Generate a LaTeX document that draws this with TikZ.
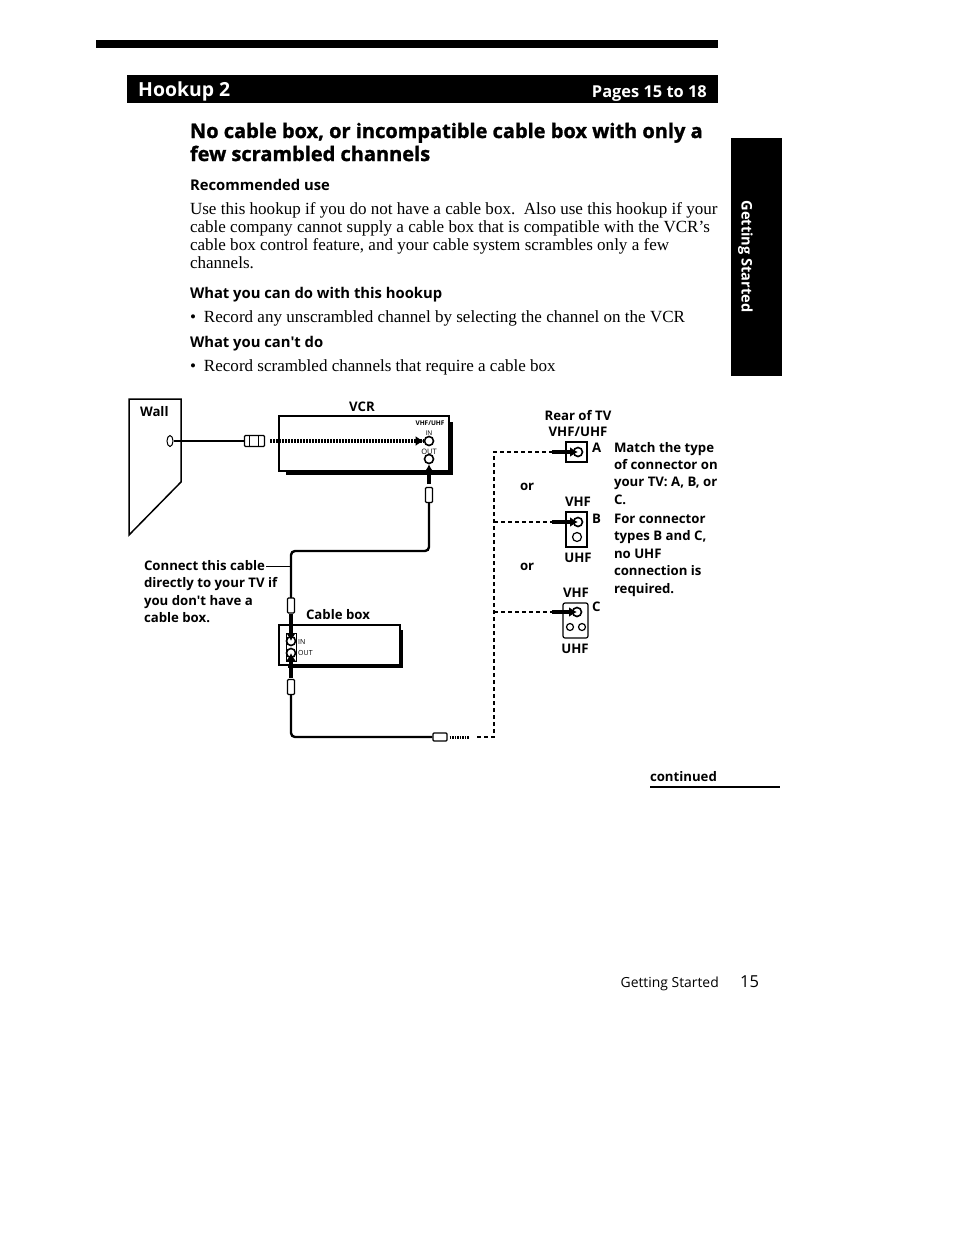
\documentclass[tikz,border=0pt]{standalone}
\usepackage{fontspec}
\setmainfont{Liberation Serif}
\newfontfamily\sansb{Open Sans}
\newfontfamily\sansh{Open Sans}[BoldFeatures={FakeBold=1.3}]
\newcommand{\fz}[1]{\fontsize{#1}{#1}\selectfont}
\usetikzlibrary{arrows.meta,shapes.geometric}
\tikzset{
  x=1pt,y=-1pt,
  lab/.style={anchor=base west,inner sep=0pt,outer sep=0pt,font=\sansb\bfseries\fz{13.2},text=black},
  labc/.style={lab,anchor=base},
  bodytxt/.style={anchor=base west,inner sep=0pt,outer sep=0pt,font=\fz{17.05},text=black},
  headtxt/.style={anchor=base west,inner sep=0pt,outer sep=0pt,font=\sansb\bfseries\fz{14.8},text=black},
  titletxt/.style={anchor=base west,inner sep=0pt,outer sep=0pt,font=\sansh\bfseries\fz{20},text=black},
  cable/.style={line width=2.4pt,black},
  thincable/.style={line width=1.8pt,black},
  boxed/.style={draw=black,line width=1.6pt,fill=white},
  dashln/.style={line width=1.3pt,dash pattern=on 4pt off 3pt,black},
  arrowline/.style={line width=3.2pt,black,-{Latex[length=8pt,width=10pt]}},
  jack/.style={circle,draw=black,line width=1.6pt,fill=white,minimum size=9pt,inner sep=0pt},
  jacks/.style={circle,draw=black,line width=1.2pt,fill=white,minimum size=7pt,inner sep=0pt},
  plugv/.style={draw=black,line width=1.2pt,fill=white,minimum width=7pt,minimum height=15pt,inner sep=0pt,rounded corners=1pt},
  plugh/.style={draw=black,line width=1.2pt,fill=white,minimum width=14pt,minimum height=8pt,inner sep=0pt,rounded corners=1pt},
}
\begin{document}
\begin{tikzpicture}
\useasboundingbox (0,0) rectangle (954,1235);
\fill[white] (0,0) rectangle (954,1235);
% top rules and banners
\fill[black] (96,40) rectangle (718,48);
\fill[black] (127,75) rectangle (718,103);
\node[anchor=base west,inner sep=0pt,font=\sansb\bfseries\fz{19.4},text=white] (hook) at (138,96) {Hookup 2};
\node[anchor=base east,inner sep=0pt,font=\sansb\bfseries\fz{16.4},text=white] (pages) at (707,97) {Pages 15 to 18};
\fill[black] (731,138) rectangle (782,376);
\node[rotate=-90,inner sep=0pt,font=\sansb\bfseries\fz{14.6},text=white] (gs) at (745.5,256.5) {Getting Started};
% text block
\node[titletxt] (t1) at (190,138) {No cable box, or incompatible cable box with only a};
\node[titletxt] (t2) at (190,161) {few scrambled channels};
\node[headtxt] (h1) at (190,190) {Recommended use};
\node[bodytxt] (b1) at (190,214) {Use this hookup if you do not have a cable box.\ \ Also use this hookup if your};
\node[bodytxt] (b2) at (190,232) {cable company cannot supply a cable box that is compatible with the VCR's};
\node[bodytxt] (b3) at (190,250) {cable box control feature, and your cable system scrambles only a few};
\node[bodytxt] (b4) at (190,268) {channels.};
\node[headtxt] (h2) at (190,298) {What you can do with this hookup};
\node[bodytxt] (b5) at (190,322) {\textbullet\hspace{8pt}Record any unscrambled channel by selecting the channel on the VCR};
\node[headtxt] (h3) at (190,347) {What you can't do};
\node[bodytxt] (b6) at (190,371) {\textbullet\hspace{8pt}Record scrambled channels that require a cable box};
% Wall
\draw[line width=1.5pt,fill=white] (129,399) -- (181,399) -- (181,482) -- (129,535) -- cycle;
\node[lab] (wall) at (140,416) {Wall};
\node[draw=black,line width=1pt,fill=white,ellipse,minimum width=6pt,minimum height=11pt,inner sep=0pt] (socket) at (170,441) {};
% VCR
\node[labc] (vcrl) at (362,411) {VCR};
\fill[black] (286,422) rectangle (453,475);
\node[boxed,anchor=north west,minimum width=170pt,minimum height=55pt,inner sep=0pt] (vcr) at (278,415) {};
\node[anchor=base,inner sep=0pt,font=\sansb\bfseries\fz{6.5}] (vhfu) at (430,425) {VHF/UHF};
\node[anchor=base,inner sep=0pt,font=\sansb\fz{6.5}] (inl) at (429,435) {IN};
\node[anchor=base,inner sep=0pt,font=\sansb\fz{7.5}] (outl) at (429,454) {OUT};
\node[jack] (vin) at (429,441) {};
\node[jack] (vout) at (429,459) {};
\node[plugh,minimum width=20pt,minimum height=11pt] (wplug) at (254.5,441) {};
\draw[line width=1pt] (249,436) -- (249,446) (258,436) -- (258,446);
\draw[thincable] (socket) -- (wplug);
\draw[line width=3.5pt,dash pattern=on 2pt off 1pt] (wplug.east)++(5,0) -- (vin.west);
\draw[arrowline] (416,441) -- (vin.west);
% VCR out cable to cable box
\coordinate (bend1) at (429,551);
\coordinate (bend2) at (291,551);
\node[plugv] (vplug) at (429,495) {};
\draw[arrowline] (429,484) -- (vout.south);
\draw[cable,rounded corners=4pt] (vplug.south) -- (bend1) -- (bend2) -- (291,598);
% cable box
\node[labc] (cbl) at (338,619) {Cable box};
\fill[black] (288,630) rectangle (403,668);
\node[boxed,anchor=north west,minimum width=121pt,minimum height=40pt,inner sep=0pt] (cbox) at (278,624) {};
\node[draw=black,line width=1pt,fill=white,minimum width=10pt,minimum height=28pt,inner sep=0pt,anchor=north] (cjb) at (291,633) {};
\node[jack] (cin) at (291,641) {};
\node[jack] (cout) at (291,653) {};
\node[anchor=base west,inner sep=0pt,font=\sansb\fz{7}] (cinl) at (298,644) {IN};
\node[anchor=base west,inner sep=0pt,font=\sansb\fz{7}] (coutl) at (298,655) {OUT};
\node[plugv] (cp1) at (291,605.5) {};
\draw[arrowline] (cp1.south) -- (cin.center);
\node[plugv] (cp2) at (291,687) {};
\draw[arrowline] (291,678) -- (cout.center);
\coordinate (bend3) at (291,737);
\node[plugh] (endplug) at (440,737) {};
\draw[cable,rounded corners=4pt] (cp2.south) -- (bend3) -- (endplug.west);
\draw[line width=3pt,dash pattern=on 1.5pt off 1pt] (endplug.east)++(2,0) -- ++(20,0);
% tv dashed lines
\coordinate (d0) at (477,737);
\coordinate (d1) at (494,737);
\coordinate (dA) at (494,452);
\coordinate (dB) at (494,522);
\coordinate (dC) at (494,612);
\draw[dashln] (d0) -- (d1) -- (dA) -- (553,452);
\draw[dashln] (dB) -- (553,522);
\draw[dashln] (dC) -- (553,612);
% connector note
\node[lab] (n1) at (144,570) {Connect this cable};
\node[lab] (n2) at (144,587) {directly to your TV if};
\node[lab] (n3) at (144,605) {you don't have a};
\node[lab] (n4) at (144,622) {cable box.};
\coordinate (nc0) at (266,566);
\coordinate (nc) at (291,566);
\draw[line width=.9pt] (nc0) -- (nc);
% TV
\node[labc] (rtv) at (578,420) {Rear of TV};
\node[labc] (vu) at (578,436) {VHF/UHF};
\node[draw=black,line width=1.2pt,fill=white,minimum width=21pt,minimum height=20pt,inner sep=0pt] (ca) at (576.5,452) {};
\node[jack] (ja) at (578,452) {};
\draw[arrowline] (552,452) -- (ja.center);
\node[lab] (la) at (592,452) {A};
\node[lab] (or1) at (520,490) {or};
\node[labc] (vb) at (578,506) {VHF};
\node[draw=black,line width=1.2pt,fill=white,minimum width=21pt,minimum height=35pt,inner sep=0pt] (cb) at (576.5,529.5) {};
\node[jack] (jb1) at (578,522) {};
\node[jacks,minimum size=9pt] (jb2) at (577,537) {};
\draw[arrowline] (552,522) -- (jb1.center);
\node[lab] (lb) at (592,523) {B};
\node[labc] (ub) at (578,562) {UHF};
\node[lab] (or2) at (520,570) {or};
\node[labc] (vc) at (576,597) {VHF};
\node[draw=black,line width=1.2pt,fill=white,rounded corners=2pt,minimum width=25pt,minimum height=35pt,inner sep=0pt] (cc) at (575.5,620.5) {};
\node[jack] (jc1) at (577,612) {};
\node[jacks] (jc2) at (570,627) {};
\node[jacks] (jc3) at (582,627) {};
\draw[arrowline] (552,612) -- (jc1.center);
\node[lab] (lc) at (592,611) {C};
\node[labc] (uc) at (575,653) {UHF};
% side note
\node[lab] (m1) at (614,452) {Match the type};
\node[lab] (m2) at (614,469) {of connector on};
\node[lab] (m3) at (614,486) {your TV: A, B, or};
\node[lab] (m4) at (614,504) {C.};
\node[lab] (m5) at (614,523) {For connector};
\node[lab] (m6) at (614,540) {types B and C,};
\node[lab] (m7) at (614,558) {no UHF};
\node[lab] (m8) at (614,575) {connection is};
\node[lab] (m9) at (614,593) {required.};
% footer
\node[lab] (cont) at (650,781) {continued};
\coordinate (ca1) at (650,787);
\coordinate (ca2) at (780,787);
\draw[line width=1.6pt] (ca1) -- (ca2);
\node[anchor=base east,inner sep=0pt,font=\sansb\fz{13.9}] (gsf) at (719,987) {Getting Started};
\node[anchor=base west,inner sep=0pt,font=\sansb\fz{16.5}] (pn) at (740,987) {15};
\end{tikzpicture}
\end{document}
